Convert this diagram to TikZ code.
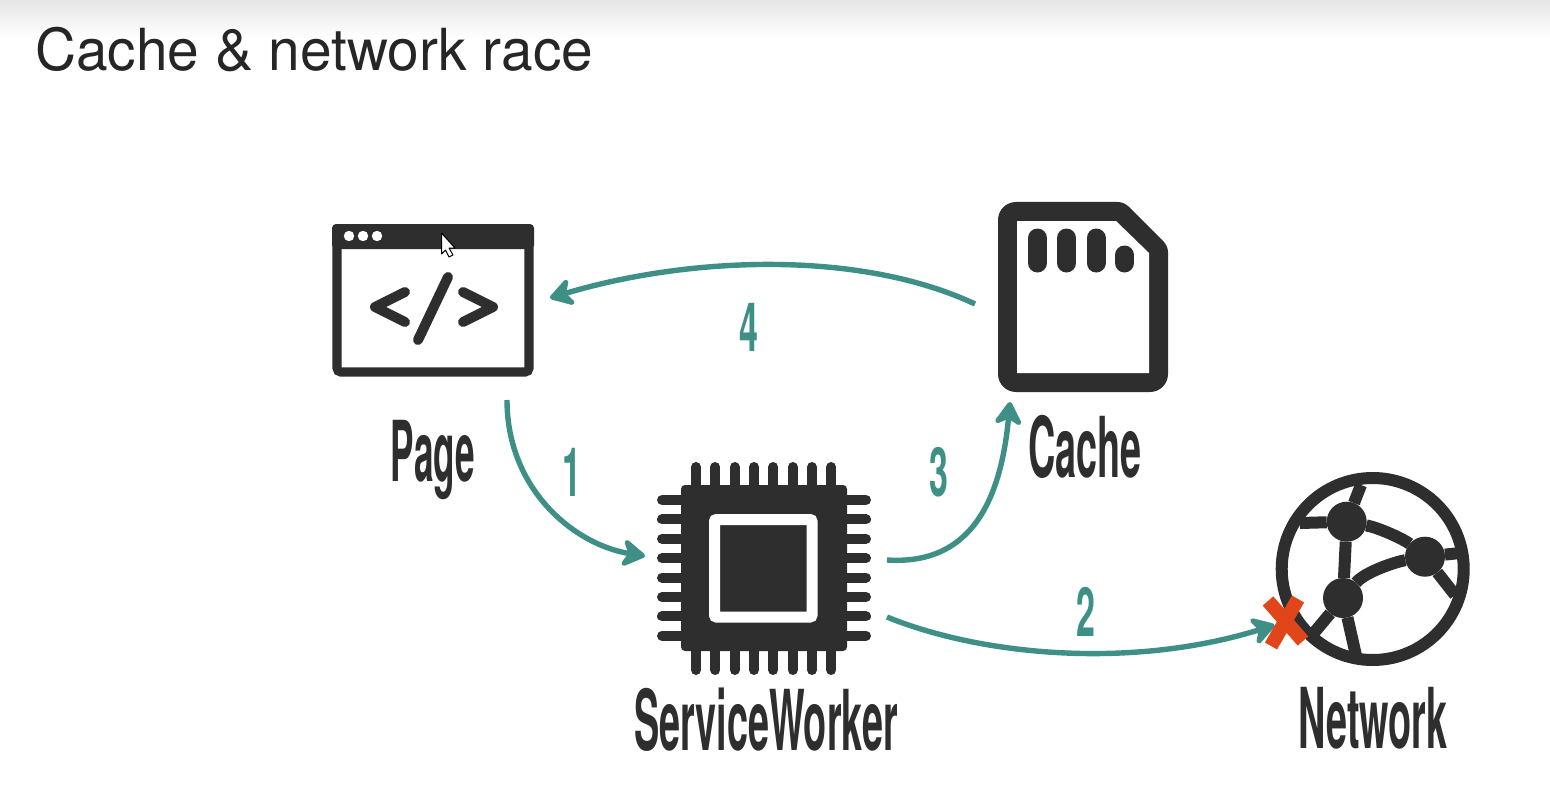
\documentclass[tikz,border=0pt]{standalone}
\usepackage{fontspec}
\usepackage{xcolor}
\usetikzlibrary{arrows.meta,positioning}
\setmainfont{TeX Gyre Heros}
\definecolor{ink}{HTML}{2E2E2E}
\definecolor{flowteal}{HTML}{3E8F85}
\definecolor{crossred}{HTML}{E0461A}
\begin{document}
\begin{tikzpicture}[
    x=0.5pt, y=-0.5pt,
    >={Stealth[inset=4.5pt,length=14pt,width=17pt,round]},
    every node/.style={inner sep=0pt, outer sep=0pt},
    flow/.style={->, draw=flowteal, line width=2.7pt},
    hand/.style={font=\fontsize{42}{42}\selectfont\bfseries, text=ink, xscale=0.45},
    digit/.style={font=\fontsize{34}{34}\selectfont\bfseries, text=flowteal, xscale=0.5},
    hub/.style={circle, fill=ink, minimum size=20pt},
    link/.style={draw=ink, line width=6pt},
    pin/.style={draw=ink, line width=5pt, line cap=round}
]
\useasboundingbox (0,0) rectangle (1550,786);
\fill[white] (0,0) rectangle (1550,786);
\fill[top color=black!10, bottom color=white] (0,0) rectangle (1550,38);

\node[anchor=base west, font=\fontsize{29}{29}\selectfont, text=black!85, xscale=0.98] (title) at (35,71) {Cache \& network race};

% page window
\node[draw=ink, fill=white, line width=4.6pt, rounded corners=2pt, minimum width=96pt, minimum height=71.5pt] (page) at (433,300.5) {};
\fill[ink, rounded corners=2pt] (332,224) rectangle (534,249);
\foreach \x in {349,363,377} \fill[white] (\x,236) circle (2.6pt);
\draw[ink, line width=5pt, line cap=round, line join=round] (405,292) -- (375,307) -- (405,322);
\draw[ink, line width=5pt, line cap=round, line join=round] (463,292) -- (493,307) -- (463,322);
\draw[ink, line width=5pt, line cap=round] (448,277) -- (418,340);
\draw[fill=white, draw=black, line width=0.5pt, line join=round] (441.7,233.3) -- (455,248) -- (449,248) -- (453,255) -- (449,257) -- (445.5,250) -- (441.7,254) -- cycle;

% cache card
\node[minimum width=85pt, minimum height=95pt] (cache) at (1083,297) {};
\fill[ink, rounded corners=9pt] (998,202) [rounded corners=3pt] -- (1124,202) -- (1168,246) [rounded corners=9pt] -- (1168,392) -- (998,392) -- cycle;
\fill[white] (1017,221) -- (1116,221) -- (1149,253) -- (1149,373) -- (1017,373) -- cycle;
\foreach \x in {1037.5,1066.5,1096} \draw[ink, line width=9.5pt, line cap=round] (\x,238) -- (\x,263);
\draw[ink, line width=9.5pt, line cap=round] (1124.5,255) -- (1124.5,263);

% chip
\node[fill=ink, rounded corners=2pt, minimum width=83pt, minimum height=83pt] (chip) at (764,568) {};
\foreach \i in {0,...,7} {
    \draw[pin] (696+19.33*\i,467) -- (696+19.33*\i,490);
    \draw[pin] (696+19.33*\i,646) -- (696+19.33*\i,670);
    \draw[pin] (662,500+19.4*\i) -- (686,500+19.4*\i);
    \draw[pin] (842,500+19.4*\i) -- (866,500+19.4*\i);
}
\draw[white, line width=5.5pt, rounded corners=1pt] (714.5,519.5) rectangle (812,617);

% globe
\node[circle, draw=ink, fill=white, line width=6pt, minimum size=91pt] (globe) at (1372.7,569) {};
\node[hub] (hubA) at (1346.7,521.7) {};
\node[hub] (hubB) at (1425,556.7) {};
\node[hub] (hubC) at (1343,598) {};
\draw[link] (hubA) -- (hubC);
\draw[link] (hubA) .. controls (1380,528) and (1405,540) .. (hubB);
\draw[link] (hubC) .. controls (1365,572) and (1395,562) .. (hubB);
\draw[link] (hubA) -- (1361,485);
\draw[link] (hubA) -- (1300,523);
\draw[link] (hubB) -- (1460,553);
\draw[link] (hubB) -- (1455,595);
\draw[link] (hubC) -- (1308,640);
\draw[link] (hubC) -- (1357,660);

% connectors
\draw[flow] ([shift={(74,28)}]page.south) .. controls (507,490) and (575,545) .. ([shift={(-36,-12)}]chip.west);
\draw[flow] ([shift={(40,-8)}]chip.east) .. controls (965,565) and (1000,510) .. ([shift={(-73,10)}]cache.south);
\draw[flow] ([shift={(40,49)}]chip.east) .. controls (980,655) and (1130,670) .. ([shift={(-7,56)}]globe.west);
\draw[flow] ([shift={(-23,7)}]cache.west) .. controls (860,250) and (690,256) .. ([shift={(21,-2.5)}]page.east);

% refused request
\draw[crossred, line width=7pt] (1268,601) -- (1303,641);
\draw[crossred, line width=7pt] (1298,599) -- (1271,646);

% labels
\node[hand, xscale=0.93] (pagelabel) at (433,460) {Page};
\node[hand] (cachelabel) at (1085,447) {Cache};
\node[hand] (chiplabel) at (766,720) {ServiceWorker};
\node[hand] (globelabel) at (1373,718) {Network};
\node[digit] (one) at (572,472) {1};
\node[digit] (two) at (1086,612) {2};
\node[digit] (three) at (939,472) {3};
\node[digit] (four) at (749,327) {4};
\end{tikzpicture}
\end{document}
